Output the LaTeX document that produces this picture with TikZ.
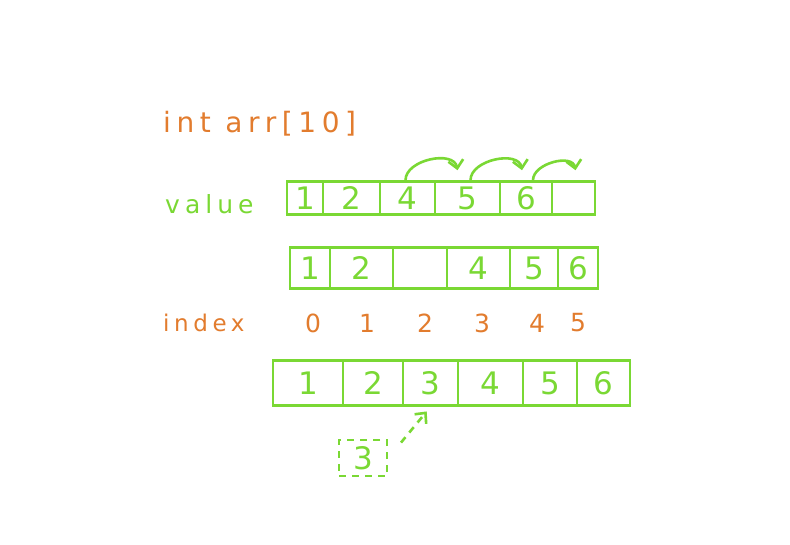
\documentclass[tikz,border=0pt]{standalone}
\usepackage{fontspec}
\setmainfont{DejaVu Sans}
\newfontfamily\hand[LetterSpace=20]{DejaVu Sans}
\usetikzlibrary{arrows.meta}
\definecolor{hgreen}{RGB}{122,216,52}
\definecolor{horange}{RGB}{226,124,46}
\tikzset{
  >={Straight Barb[length=8pt, width=15pt]},
  cell/.style={rectangle, draw=hgreen, line width=2.6pt, inner sep=0pt, text=hgreen, font=\fontsize{31}{34}\selectfont},
  lbl/.style={anchor=west, inner sep=0pt, font=\hand\fontsize{25}{28}\selectfont},
  hop/.style={->, hgreen, line width=2.6pt, out=90, in=100, looseness=1}
}

\begin{document}
\begin{tikzpicture}[x=1pt, y=-1pt]
    \useasboundingbox (0,0) rectangle (790,545);
    \node[lbl, text=horange, font=\hand\fontsize{28}{30}\selectfont] (decl) at (163,124) {int arr[10]};
    \node[lbl, text=hgreen]  (value) at (165,204) {value};
    \node[lbl, text=horange, font=\hand\fontsize{23}{28}\selectfont] (index) at (163,323) {index};

    \node[cell, minimum width=36pt, minimum height=33pt] (v1) at (305,198) {1};
    \node[cell, minimum width=57pt, minimum height=33pt] (v2) at (351.5,198) {2};
    \node[cell, minimum width=55pt, minimum height=33pt] (v3) at (407.5,198) {4};
    \node[cell, minimum width=65pt, minimum height=33pt] (v4) at (467.5,198) {5};
    \node[cell, minimum width=52pt, minimum height=33pt] (v5) at (526,198) {6};
    \node[cell, minimum width=43pt, minimum height=33pt] (v6) at (573.5,198) {};

    \draw[hop] ([xshift=-2pt]v3.north) to ([xshift=-10pt, yshift=10pt]v4.north);
    \draw[hop] ([xshift=3pt]v4.north) to ([xshift=-4pt, yshift=10pt]v5.north);
    \draw[hop] ([xshift=7pt]v5.north) to ([xshift=2pt, yshift=10pt]v6.north);

    \node[cell, minimum width=40pt, minimum height=41pt] (w1) at (310,268) {1};
    \node[cell, minimum width=63pt, minimum height=41pt] (w2) at (361.5,268) {2};
    \node[cell, minimum width=54pt, minimum height=41pt] (w3) at (420,268) {};
    \node[cell, minimum width=63pt, minimum height=41pt] (w4) at (478.5,268) {4};
    \node[cell, minimum width=48pt, minimum height=41pt] (w5) at (534,268) {5};
    \node[cell, minimum width=40pt, minimum height=41pt] (w6) at (578,268) {6};

    \node[text=horange, font=\fontsize{25}{28}\selectfont] (i0) at (313,323) {0};
    \node[text=horange, font=\fontsize{25}{28}\selectfont] (i1) at (367,323) {1};
    \node[text=horange, font=\fontsize{25}{28}\selectfont] (i2) at (425,323) {2};
    \node[text=horange, font=\fontsize{25}{28}\selectfont] (i3) at (482,323) {3};
    \node[text=horange, font=\fontsize{25}{28}\selectfont] (i4) at (537,323) {4};
    \node[text=horange, font=\fontsize{25}{28}\selectfont] (i5) at (578,323) {5};

    \node[cell, minimum width=70pt, minimum height=45pt] (c1) at (308,383) {1};
    \node[cell, minimum width=60pt, minimum height=45pt] (c2) at (373,383) {2};
    \node[cell, minimum width=55pt, minimum height=45pt] (c3) at (430.5,383) {3};
    \node[cell, minimum width=65pt, minimum height=45pt] (c4) at (490.5,383) {4};
    \node[cell, minimum width=54pt, minimum height=45pt] (c5) at (550,383) {5};
    \node[cell, minimum width=53pt, minimum height=45pt] (c6) at (603.5,383) {6};

    \node[cell, dash pattern=on 7pt off 6pt, minimum width=48pt, minimum height=36pt] (tmp) at (363,458) {3};
    \draw[->, hgreen, line width=2.6pt, dash pattern=on 7pt off 6pt, shorten <=20pt, shorten >=6pt] (tmp.east) -- (c3.south);
\end{tikzpicture}
\end{document}
